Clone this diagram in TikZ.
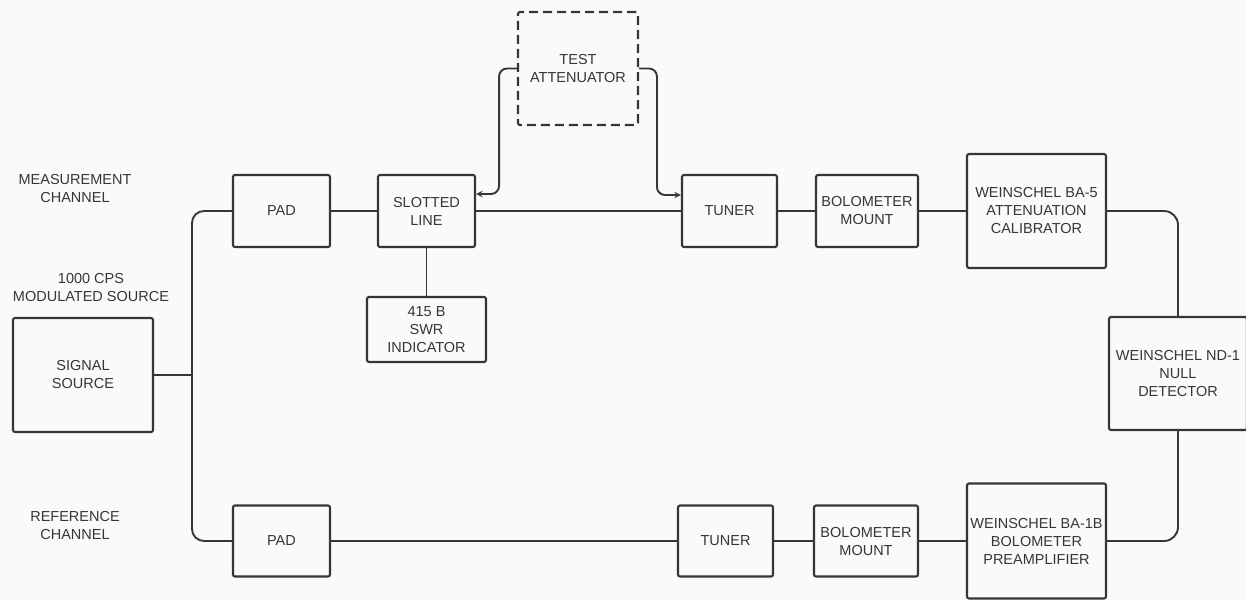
\documentclass[tikz,border=0pt]{standalone}
\usepackage{fontspec}
\setmainfont{Liberation Sans}
\usetikzlibrary{arrows}
\definecolor{ink}{HTML}{363636}
\definecolor{paper}{HTML}{FAFAFA}
\begin{document}
\begin{tikzpicture}[>=stealth, x=1pt, y=-1pt,
  every node/.style={font=\fontsize{14.5}{18}\selectfont, text=ink, align=center, inner sep=0pt},
  blk/.style={draw=ink, rectangle, line width=2.1pt, rounded corners=2pt},
  dashbox/.style={blk, dashed, dash pattern=on 9pt off 5pt},
  wire/.style={draw=ink, line width=1.9pt}]
\fill[paper] (0,0) rectangle (1246,600);
\useasboundingbox (0,0) rectangle (1246,600);

\node (lmeas) at (75,189) {MEASUREMENT\\CHANNEL};
\node (lsrc) at (91,288) {1000 CPS\\MODULATED SOURCE};
\node (lref) at (75,525) {REFERENCE\\CHANNEL};

\node[blk, minimum width=140, minimum height=114] (src) at (83,375) {SIGNAL\\SOURCE};
\node[blk, minimum width=97, minimum height=72] (padm) at (281.5,211) {PAD};
\node[blk, minimum width=97, minimum height=72] (slot) at (426.5,211) {SLOTTED\\LINE};
\node[blk, minimum width=119, minimum height=65] (swr) at (426.5,329.5) {415 B\\SWR\\INDICATOR};
\node[dashbox, minimum width=120, minimum height=113] (tatt) at (578,68.5) {TEST\\ATTENUATOR};
\node[blk, minimum width=95, minimum height=72] (tunm) at (729.5,211) {TUNER};
\node[blk, minimum width=102, minimum height=72] (bolm) at (867,211) {BOLOMETER\\MOUNT};
\node[blk, minimum width=139, minimum height=114] (calb) at (1036.5,211) {WEINSCHEL BA-5\\ATTENUATION\\CALIBRATOR};
\node[blk, minimum width=138, minimum height=113] (ndet) at (1178,373.5) {WEINSCHEL ND-1\\NULL\\DETECTOR};
\node[blk, minimum width=139, minimum height=115] (preamp) at (1036.5,541) {WEINSCHEL BA-1B\\BOLOMETER\\PREAMPLIFIER};
\node[blk, minimum width=104, minimum height=71] (bolr) at (866,541) {BOLOMETER\\MOUNT};
\node[blk, minimum width=95, minimum height=71] (tunr) at (725.5,541) {TUNER};
\node[blk, minimum width=97, minimum height=71] (padr) at (281.5,541) {PAD};
\coordinate (jn) at (192,375);

% source feeds both channels
\draw[wire] (src.east) -- (jn);
\draw[wire, rounded corners=12] (padm.west) -| (jn) |- (padr.west);

% measurement channel
\draw[wire] (padm) -- (slot);
\draw[wire] (slot) -- (tunm);
\draw[wire] (slot) -- (swr);
\draw[wire] (tunm) -- (bolm);
\draw[wire] (bolm) -- (calb);
\draw[wire, rounded corners=14] (calb.east) -| (ndet.north);

% test attenuator inserted
\draw[wire, ->, rounded corners=8] (tatt.west) -| ([xshift=23,yshift=17]slot.east) -- ([yshift=17]slot.east);
\draw[wire, ->, rounded corners=8] (tatt.east) -| ([xshift=-24,yshift=16]tunm.west) -- ([yshift=16]tunm.west);

% reference channel
\draw[wire, rounded corners=14] (ndet.south) |- (preamp.east);
\draw[wire] (preamp) -- (bolr);
\draw[wire] (bolr) -- (tunr);
\draw[wire] (tunr) -- (padr);
\end{tikzpicture}
\end{document}
